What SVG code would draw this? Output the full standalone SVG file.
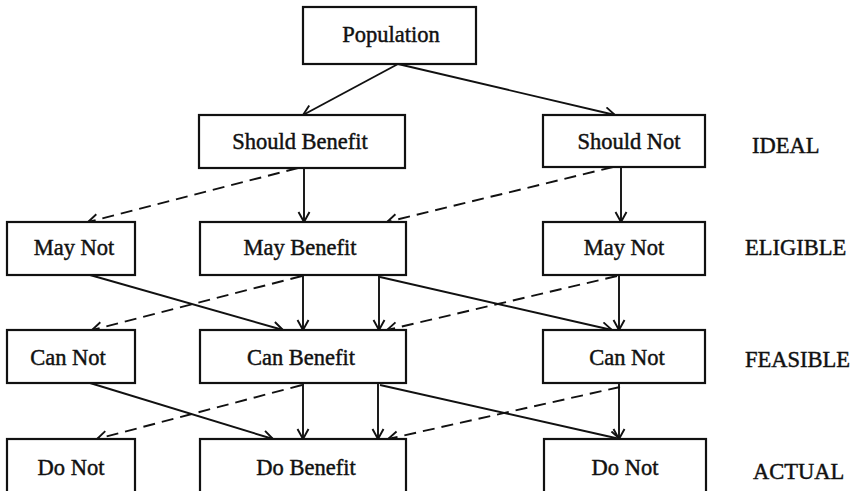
<svg xmlns="http://www.w3.org/2000/svg" width="853" height="491" viewBox="0 0 853 491">
<defs>
<style>
.box{fill:#fff;stroke:#111;stroke-width:2.2}
.t{font-family:"Liberation Serif","Times New Roman",serif;font-size:22.5px;fill:#111;stroke:#111;stroke-width:0.45;text-anchor:middle}
.lbl{font-family:"Liberation Serif","Times New Roman",serif;font-size:22.5px;fill:#111;stroke:#111;stroke-width:0.45}
.c{fill:none;stroke:#111;stroke-width:1.9;marker-end:url(#ah)}
.d{stroke-dasharray:12 7}
</style>
<marker id="ah" markerUnits="userSpaceOnUse" markerWidth="14" markerHeight="14" refX="11" refY="6.5" orient="auto" viewBox="0 0 14 14">
<path d="M1,1 L11,6.5 L1,12" fill="none" stroke="#111" stroke-width="1.9"/>
</marker>
</defs>
<rect width="853" height="491" fill="#fff"/>
<g id="connectors">
<path class="c" d="M398,64 L303,115"/>
<path class="c" d="M398,64 L615,115"/>
<path class="c" d="M304,168 L304,222"/>
<path class="c" d="M621,167 L621,222"/>
<path class="c" d="M90,275 L283,330"/>
<path class="c" d="M303,275 L303,330"/>
<path class="c" d="M379,275 L379,330"/>
<path class="c" d="M380,277 L612,330"/>
<path class="c" d="M619,275 L619,330"/>
<path class="c" d="M90,383 L273,439"/>
<path class="c" d="M303,383 L303,439"/>
<path class="c" d="M378,383 L378,439"/>
<path class="c" d="M380,385 L620,439"/>
<path class="c" d="M619,383 L619,439"/>
<path class="c d" d="M298,168 L88,222"/>
<path class="c d" d="M613,167 L387,222"/>
<path class="c d" d="M302,276 L92,330"/>
<path class="c d" d="M617,276 L387,330"/>
<path class="c d" d="M302,385 L97,439"/>
<path class="c d" d="M620,387 L388,439"/>
</g>
<g id="population"><rect class="box" x="303" y="7" width="173" height="57"/><text class="t" x="391" y="42">Population</text></g>
<g id="should-benefit"><rect class="box" x="199" y="115" width="206" height="53"/><text class="t" x="300" y="149">Should Benefit</text></g>
<g id="should-not"><rect class="box" x="543" y="115" width="162" height="52"/><text class="t" x="629" y="149">Should Not</text></g>
<g id="may-not-left"><rect class="box" x="7" y="222" width="128" height="53"/><text class="t" x="74" y="255">May Not</text></g>
<g id="may-benefit"><rect class="box" x="200" y="222" width="206" height="53"/><text class="t" x="300" y="255">May Benefit</text></g>
<g id="may-not-right"><rect class="box" x="543" y="222" width="162" height="53"/><text class="t" x="624" y="255">May Not</text></g>
<g id="can-not-left"><rect class="box" x="7" y="330" width="128" height="53"/><text class="t" x="68" y="365">Can Not</text></g>
<g id="can-benefit"><rect class="box" x="200" y="330" width="206" height="53"/><text class="t" x="301" y="365">Can Benefit</text></g>
<g id="can-not-right"><rect class="box" x="543" y="330" width="162" height="53"/><text class="t" x="627" y="365">Can Not</text></g>
<g id="do-not-left"><rect class="box" x="7" y="439" width="128" height="62"/><text class="t" x="71" y="475">Do Not</text></g>
<g id="do-benefit"><rect class="box" x="200" y="439" width="206" height="62"/><text class="t" x="306" y="475">Do Benefit</text></g>
<g id="do-not-right"><rect class="box" x="544" y="439" width="162" height="62"/><text class="t" x="625" y="475">Do Not</text></g>
<g id="labels">
<text class="lbl" x="752" y="153">IDEAL</text>
<text class="lbl" x="745" y="255">ELIGIBLE</text>
<text class="lbl" x="745" y="367">FEASIBLE</text>
<text class="lbl" x="753" y="479">ACTUAL</text>
</g>
</svg>
